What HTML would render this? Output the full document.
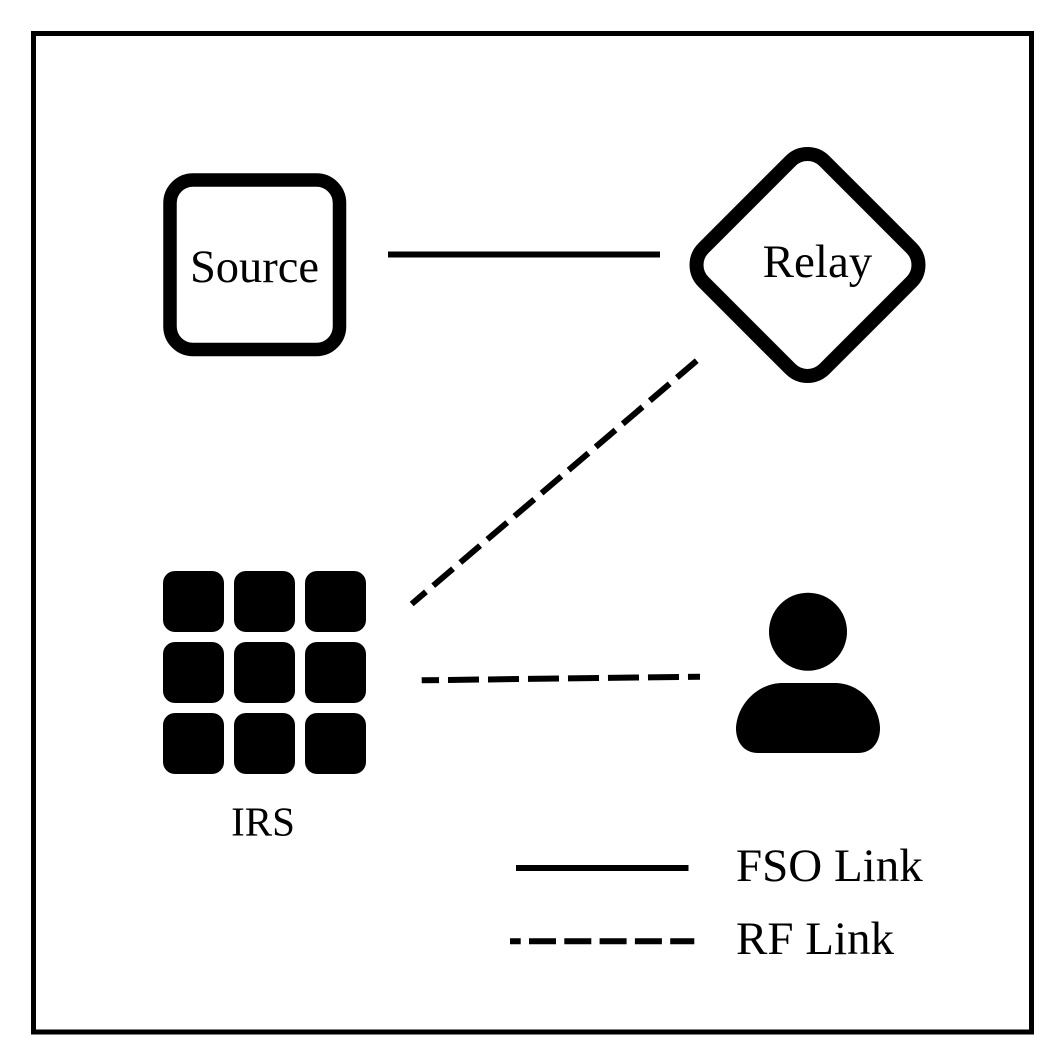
<!DOCTYPE html>
<html>
<head>
<meta charset="utf-8">
<style>
html,body{margin:0;padding:0;background:#fff;width:1057px;height:1055px;overflow:hidden}
svg{display:block}
text{font-family:"Liberation Serif",serif;fill:#000}
</style>
</head>
<body>
<svg width="1057" height="1055" viewBox="0 0 1057 1055" xmlns="http://www.w3.org/2000/svg">
<rect x="0" y="0" width="1057" height="1055" fill="#fff"/>
<rect x="33.5" y="33.500" width="998" height="998.500" fill="none" stroke="#000" stroke-width="5"/>

<!-- Source -->
<rect x="170" y="180" width="169.500" height="169.500" rx="23" fill="none" stroke="#000" stroke-width="13.500"/>
<text x="254.500" y="282" font-size="46.500" text-anchor="middle">Source</text>

<!-- Relay -->
<rect x="722" y="179.500" width="171" height="171" rx="24" fill="none" stroke="#000" stroke-width="14" transform="rotate(45 807.500 265)"/>
<text x="817.500" y="277" font-size="47" text-anchor="middle">Relay</text>

<!-- Links -->
<line x1="388" y1="254.500" x2="660" y2="254.500" stroke="#000" stroke-width="6"/>
<line x1="696.700" y1="360.700" x2="411.700" y2="604" stroke="#000" stroke-width="6" stroke-dasharray="26 9.600"/>
<line x1="421.700" y1="680.300" x2="700" y2="676.700" stroke="#000" stroke-width="6" stroke-dasharray="31 9" stroke-dashoffset="13.700"/>

<!-- IRS -->
<g fill="#000">
<rect x="163" y="571" width="61" height="61" rx="12"/>
<rect x="234" y="571" width="61" height="61" rx="12"/>
<rect x="305" y="571" width="61" height="61" rx="12"/>
<rect x="163" y="642" width="61" height="61" rx="12"/>
<rect x="234" y="642" width="61" height="61" rx="12"/>
<rect x="305" y="642" width="61" height="61" rx="12"/>
<rect x="163" y="713" width="61" height="61" rx="12"/>
<rect x="234" y="713" width="61" height="61" rx="12"/>
<rect x="305" y="713" width="61" height="61" rx="12"/>
</g>
<text x="263" y="835.500" font-size="41" text-anchor="middle">IRS</text>

<!-- User -->
<circle cx="808" cy="631.700" r="39" fill="#000"/>
<path d="M736 727 C738 702 760 683 782 683 L835 683 C858 683 878 702 880 727 C880.500 742 872 753 858 753 L758 753 C744 753 735.500 742 736 727 Z" fill="#000"/>

<!-- Legend -->
<line x1="516" y1="868" x2="688.500" y2="868" stroke="#000" stroke-width="6"/>
<text x="736" y="881" font-size="47">FSO Link</text>
<line x1="510" y1="941.300" x2="694.300" y2="941.300" stroke="#000" stroke-width="6" stroke-dasharray="27 8.300" stroke-dashoffset="16.300"/>
<text x="736" y="954" font-size="47">RF Link</text>
</svg>
</body>
</html>
